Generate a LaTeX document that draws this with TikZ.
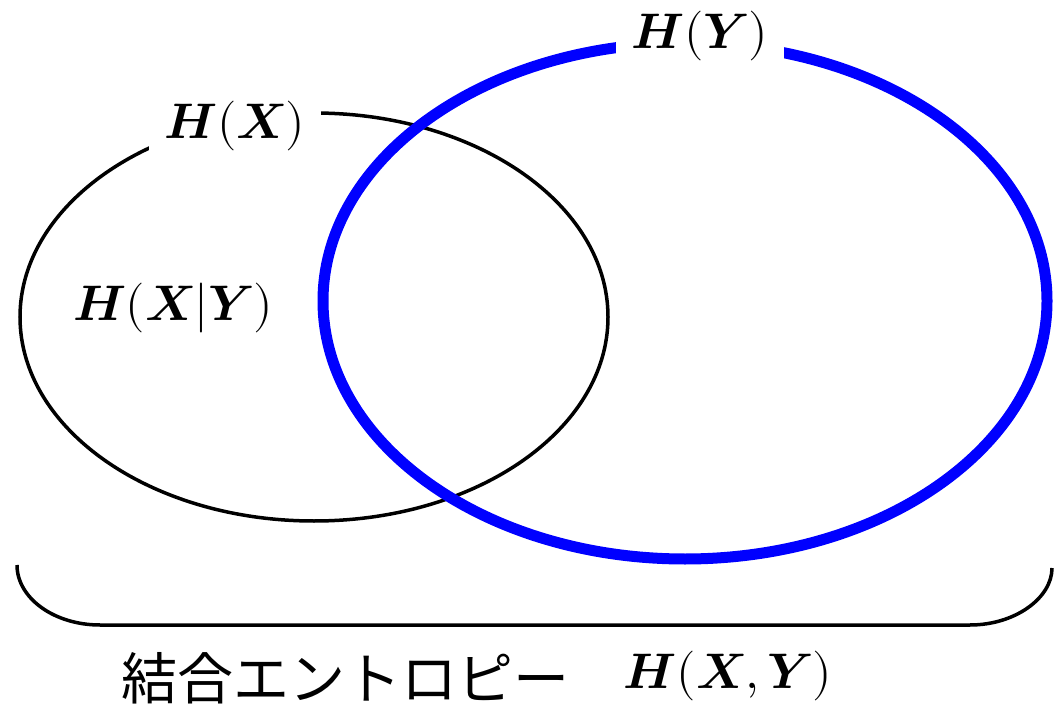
\documentclass[tikz,border=0pt]{standalone}
\usepackage{fontspec}
\usepackage{unicode-math}
\setmathfont{Latin Modern Math}
\newfontfamily\jpfont{Noto Sans CJK JP}
\usetikzlibrary{positioning}

\tikzset{
    lbl/.style={fill=white, inner sep=16pt, font=\fontsize{50}{60}\selectfont},
    jp/.style={inner sep=0pt, font=\jpfont\fontsize{56}{60}\selectfont}
}
\newcommand{\bH}{\symbfit{H}}
\newcommand{\bX}{\symbfit{X}}
\newcommand{\bY}{\symbfit{Y}}

\begin{document}
\begin{tikzpicture}[x=1pt, y=-1pt]
    \useasboundingbox (0,0) rectangle (1055,711);
    % H(X)
    \draw[line width=3.5pt] (314,317) ellipse [x radius=294, y radius=204];
    \node[lbl] (hx) at (235,126) {$\bH(\bX)$};
    % H(Y)
    \draw[line width=11pt, blue] (685,301) ellipse [x radius=362, y radius=258];
    \node[lbl] (hy) at (700,36) {$\bH(\bY)$};
    \node[lbl, fill=none] (hxy) at (173,308) {$\bH(\bX|\bY)$};
    % 結合エントロピー
    \draw[line width=3.5pt] (17,565) .. controls (17,598) and (54,625) .. (100,625)
        -- (970,625) .. controls (1015,625) and (1052,598) .. (1052,568);
    \node[jp] (joint) at (345,678) {結合エントロピー};
    \node[lbl, fill=none] (hjoint) at (728,676) {$\bH(\bX,\bY)$};
\end{tikzpicture}
\end{document}
